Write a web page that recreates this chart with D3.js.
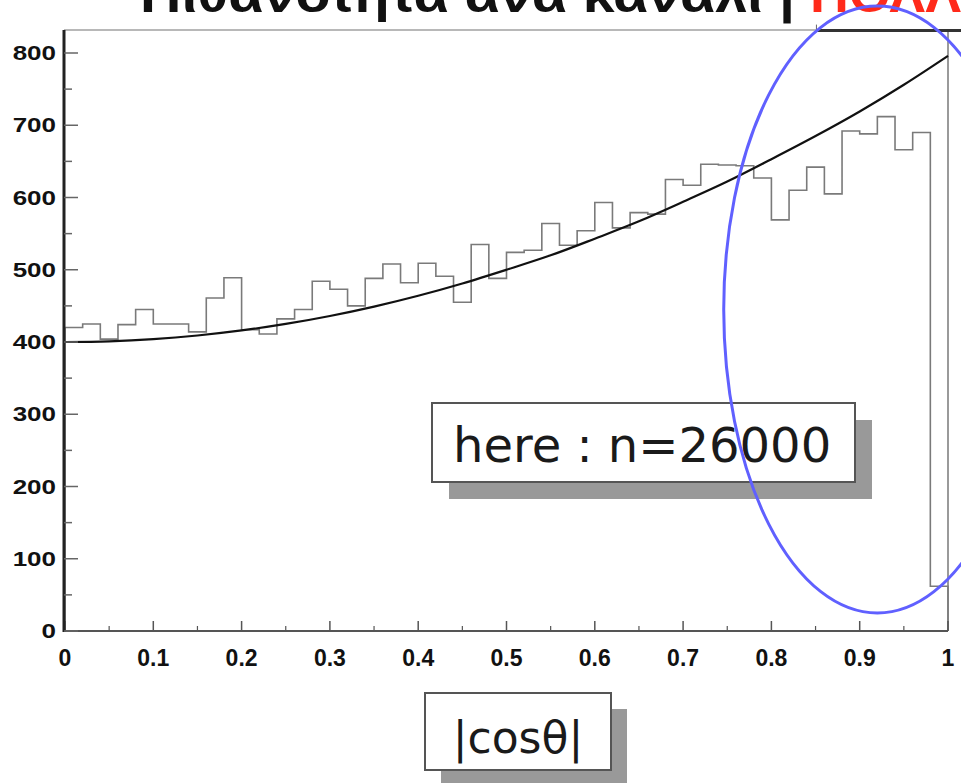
<!DOCTYPE html>
<html>
<head>
<meta charset="utf-8">
<script src="https://cdn.jsdelivr.net/npm/d3@7"></script>
<style>
  html, body { margin: 0; padding: 0; background: #fff; overflow: hidden; }
  svg { display: block; }
</style>
</head>
<body>
<svg id="chart" width="961" height="783"></svg>
<script>
// ---------- data ----------
const binEdges = [0, 0.02, 0.04, 0.06, 0.08, 0.10, 0.12, 0.14, 0.16, 0.18,
  0.20, 0.22, 0.24, 0.26, 0.28, 0.30, 0.32, 0.34, 0.36, 0.38,
  0.40, 0.42, 0.44, 0.46, 0.48, 0.50, 0.52, 0.54, 0.56, 0.58,
  0.60, 0.62, 0.64, 0.66, 0.68, 0.70, 0.72, 0.74, 0.76, 0.78,
  0.80, 0.82, 0.84, 0.86, 0.88, 0.90, 0.92, 0.94, 0.96, 0.98, 1.00];
const binCounts = [420, 425, 404, 424, 445, 425, 425, 414, 461, 489,
  417, 411, 432, 445, 484, 473, 450, 488, 508, 482,
  509, 491, 455, 535, 488, 524, 527, 564, 534, 554,
  593, 558, 579, 577, 625, 617, 646, 645, 644, 627,
  569, 610, 642, 605, 692, 688, 712, 666, 690, 62];
const fitX = [0, 0.05, 0.10, 0.15, 0.20, 0.25, 0.30, 0.35, 0.40, 0.45, 0.50,
  0.55, 0.60, 0.65, 0.70, 0.75, 0.80, 0.85, 0.90, 0.95, 1.00];
const fitY = [400, 401, 404, 409, 416, 425, 436, 449, 464, 481, 500,
  520, 543, 567, 594, 622, 653, 685, 719, 756, 796];
const xTickLabels = ["0", "0.1", "0.2", "0.3", "0.4", "0.5", "0.6", "0.7", "0.8", "0.9", "1"];
const yTickLabels = ["0", "100", "200", "300", "400", "500", "600", "700", "800"];
const statText = "here : n=26000";
const xTitle = "|cos\u03B8|";
const titleBlack = "Πιθανότητα ανά κανάλι |";
const titleRed = "ΠΟΛΛΑ";
const overflowLine = { x0: 0.851, x1: 1.03, value: 831 };
const ellipseBox = { cx: 0.92, cy: 445, rx: 0.174, ry: 420 };

// ---------- layout ----------
const svg = d3.select("#chart");
const x = d3.scaleLinear().domain([0, 1]).range([65, 948]);
const y = d3.scaleLinear().domain([0, 800]).range([631, 53]);
const yBottom = y(0), yTop = 30;

// title (mostly cut off at top, as in the reference)
svg.append("text")
  .attr("x", 140).attr("y", 12)
  .attr("textLength", 655).attr("lengthAdjust", "spacingAndGlyphs")
  .style("font-family", "'Liberation Sans', Arial, sans-serif")
  .style("font-size", "50px").style("font-weight", "bold")
  .attr("fill", "#111").text(titleBlack);
svg.append("text")
  .attr("x", 810).attr("y", 12)
  .attr("textLength", 190).attr("lengthAdjust", "spacingAndGlyphs")
  .style("font-family", "'Liberation Sans', Arial, sans-serif")
  .style("font-size", "50px").style("font-weight", "bold")
  .attr("fill", "#ff2a1a").text(titleRed);

// frame (light grey top & right)
svg.append("line").attr("x1", x(0) - 1).attr("x2", 961).attr("y1", yTop).attr("y2", yTop)
  .attr("stroke", "#b8b8b8").attr("stroke-width", 2);
svg.append("line").attr("x1", x(1)).attr("x2", x(1)).attr("y1", yTop).attr("y2", yBottom)
  .attr("stroke", "#9a9a9a").attr("stroke-width", 2);

// dark segment on top frame
svg.append("line")
  .attr("x1", x(overflowLine.x0)).attr("x2", x(overflowLine.x1))
  .attr("y1", y(overflowLine.value)).attr("y2", y(overflowLine.value))
  .attr("stroke", "#333").attr("stroke-width", 3);
svg.append("line")
  .attr("x1", x(overflowLine.x0)).attr("x2", x(overflowLine.x0))
  .attr("y1", y(overflowLine.value)).attr("y2", y(overflowLine.value) - 6)
  .attr("stroke", "#666").attr("stroke-width", 1);

// histogram as step outline
const pts = [[x(binEdges[0]), y(0)]];
binCounts.forEach((c, i) => {
  pts.push([x(binEdges[i]), y(c)]);
  pts.push([x(binEdges[i + 1]), y(c)]);
});
pts.push([x(binEdges[binEdges.length - 1]), y(0)]);
svg.append("path")
  .attr("d", d3.line()(pts))
  .attr("fill", "none").attr("stroke", "#7a7a7a").attr("stroke-width", 1.6);

// fit curve
svg.append("path")
  .datum(fitX.map((v, i) => [v, fitY[i]]))
  .attr("d", d3.line().x(d => x(d[0])).y(d => y(d[1])).curve(d3.curveCatmullRom))
  .attr("fill", "none").attr("stroke", "#111").attr("stroke-width", 2.2);

// x axis
const xAxisG = svg.append("g").attr("transform", `translate(0,${yBottom})`);
xAxisG.append("line").attr("x1", x(0)).attr("x2", x(1)).attr("y1", 0).attr("y2", 0)
  .attr("stroke", "#555").attr("stroke-width", 2);
const xMajor = d3.range(0, 11).map(i => i / 10);
const xMinor = d3.range(0, 10).map(i => i / 10 + 0.05);
xAxisG.selectAll(".xmaj").data(xMajor).join("line")
  .attr("x1", d => x(d)).attr("x2", d => x(d)).attr("y1", 0).attr("y2", -10)
  .attr("stroke", "#555").attr("stroke-width", 1.5);
xAxisG.selectAll(".xmin").data(xMinor).join("line")
  .attr("x1", d => x(d)).attr("x2", d => x(d)).attr("y1", 0).attr("y2", -5)
  .attr("stroke", "#555").attr("stroke-width", 1.2);
xAxisG.selectAll(".xlab").data(xMajor).join("text")
  .attr("x", d => x(d)).attr("y", 35)
  .attr("text-anchor", "middle")
  .style("font-family", "'Liberation Sans', Arial, sans-serif")
  .style("font-size", "23px").style("font-weight", "bold").attr("fill", "#111")
  .text((d, i) => xTickLabels[i]);

// y axis
const yAxisG = svg.append("g").attr("transform", `translate(${x(0) - 1},0)`);
yAxisG.append("line").attr("x1", 0).attr("x2", 0).attr("y1", yTop).attr("y2", yBottom + 1)
  .attr("stroke", "#222").attr("stroke-width", 3);
const yMajor = d3.range(0, 9).map(i => i * 100);
const yMinor = d3.range(0, 8).map(i => i * 100 + 50);
yAxisG.selectAll(".ymaj").data(yMajor).join("line")
  .attr("x1", 0).attr("x2", 14).attr("y1", d => y(d)).attr("y2", d => y(d))
  .attr("stroke", "#666").attr("stroke-width", 1.5);
yAxisG.selectAll(".ymin").data(yMinor).join("line")
  .attr("x1", 0).attr("x2", 8).attr("y1", d => y(d)).attr("y2", d => y(d))
  .attr("stroke", "#666").attr("stroke-width", 1.5);
yAxisG.selectAll(".ylab").data(yMajor).join("text")
  .attr("transform", d => `translate(-8,${y(d) + 7}) scale(1.3,1)`)
  .attr("text-anchor", "end")
  .style("font-family", "'Liberation Sans', Arial, sans-serif")
  .style("font-size", "20px").style("font-weight", "bold").attr("fill", "#111")
  .text((d, i) => yTickLabels[i]);

// stats box "here : n=26000"
function shadowBox(x0, y0, w, h, off) {
  svg.append("rect").attr("x", x0 + off).attr("y", y0 + off).attr("width", w).attr("height", h)
    .attr("fill", "#999");
  svg.append("rect").attr("x", x0).attr("y", y0).attr("width", w).attr("height", h)
    .attr("fill", "#fff").attr("stroke", "#555").attr("stroke-width", 2);
}
shadowBox(432, 403, 423, 79, 17);
svg.append("text").attr("x", 453).attr("y", 462)
  .style("font-family", "'DejaVu Sans', Verdana, sans-serif")
  .style("font-size", "48px").attr("fill", "#1a1a1a")
  .text(statText);

// x-axis title box
shadowBox(425, 693, 186, 77, 16);
svg.append("text").attr("x", 518).attr("y", 753)
  .attr("text-anchor", "middle")
  .style("font-family", "'DejaVu Sans', Verdana, sans-serif")
  .style("font-size", "44px").attr("fill", "#1a1a1a")
  .text(xTitle);

// blue ellipse annotation
svg.append("ellipse")
  .attr("cx", x(ellipseBox.cx)).attr("cy", y(ellipseBox.cy))
  .attr("rx", x(ellipseBox.rx) - x(0)).attr("ry", y(0) - y(ellipseBox.ry))
  .attr("fill", "none").attr("stroke", "#6060ff").attr("stroke-width", 3);
</script>
</body>
</html>
